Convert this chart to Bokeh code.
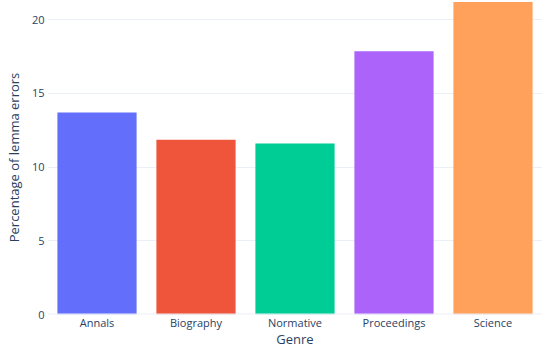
from bokeh.plotting import figure
from bokeh.models import FactorRange, Range1d, FixedTicker, Span, ColumnDataSource
from bokeh.embed import file_html
from bokeh.resources import INLINE

genres = ["Annals", "Biography", "Normative", "Proceedings", "Science"]
errors = [13.7, 11.85, 11.6, 17.85, 21.2]
colors = ["#636efa", "#EF553B", "#00cc96", "#ab63fa", "#FFA15A"]
y_ticks = [0, 5, 10, 15, 20]

src = ColumnDataSource(dict(g=genres, v=errors, c=colors))

p = figure(x_range=FactorRange(*genres, range_padding=0), y_range=Range1d(0, 21.3),
           width=542, height=350, output_backend="svg", toolbar_location=None,
           min_border_left=47, min_border_right=0, min_border_top=0, min_border_bottom=0)
p.vbar(x="g", top="v", width=0.8, color="c", line_color=None, source=src)

p.outline_line_color = None
p.background_fill_color = "white"
p.xgrid.grid_line_color = None
p.ygrid.grid_line_color = "#EBF0F8"
p.ygrid.grid_line_width = 1
p.yaxis.ticker = FixedTicker(ticks=y_ticks)

for ax in (p.xaxis[0], p.yaxis[0]):
    ax.axis_line_color = None
    ax.major_tick_line_color = None
    ax.minor_tick_line_color = None
    ax.major_tick_out = 0
    ax.major_tick_in = 0
    ax.minor_tick_out = 0
    ax.minor_tick_in = 0
    ax.major_label_text_font = "Open Sans"
    ax.major_label_text_font_size = "11px"
    ax.major_label_text_color = "#2a3f5f"
    ax.axis_label_text_font = "Open Sans"
    ax.axis_label_text_font_size = "13px"
    ax.axis_label_text_font_style = "normal"
    ax.axis_label_text_color = "#2a3f5f"

p.xaxis.axis_label = "Genre"
p.yaxis.axis_label = "Percentage of lemma errors"
p.xaxis.major_label_standoff = 0
p.xaxis.axis_label_standoff = -3
p.yaxis.major_label_standoff = 3
p.yaxis.axis_label_standoff = 6

p.add_layout(Span(location=0, dimension="width", line_color="#EBF0F8", line_width=2))

open("out.html", "w").write(file_html(p, INLINE))
